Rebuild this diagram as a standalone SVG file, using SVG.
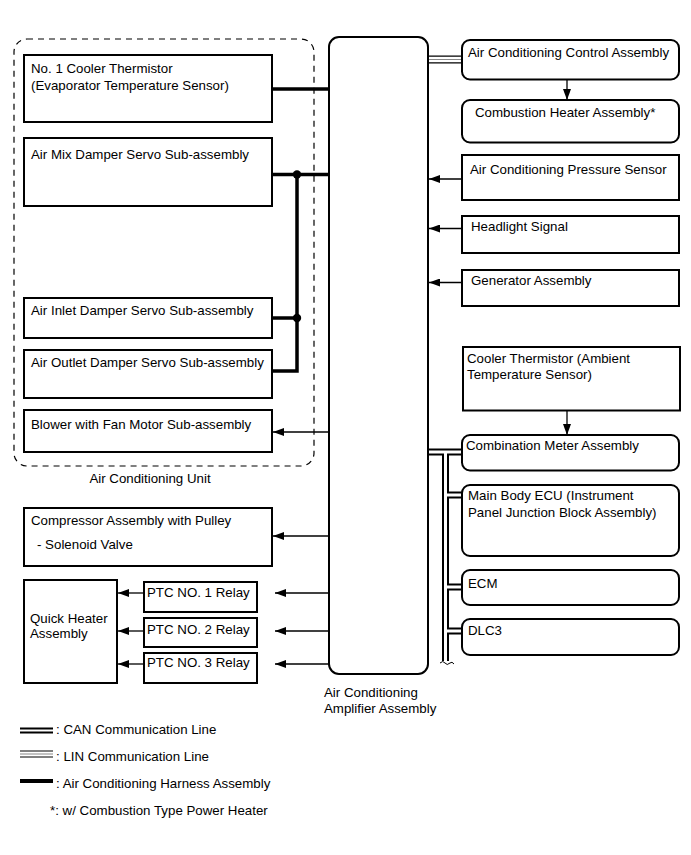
<svg xmlns="http://www.w3.org/2000/svg" width="691" height="855" viewBox="0 0 691 855">
<style>
text{font-family:"Liberation Sans",Arial,sans-serif;font-size:13.3px;fill:#000}
.box{fill:#fff;stroke:#000;stroke-width:2}
.ln{stroke:#000;stroke-width:1.3;fill:none}
.hv{stroke:#000;stroke-width:3.5;fill:none}
.canO{stroke:#000;stroke-width:7;fill:none}
.canI{stroke:#fff;stroke-width:3;fill:none}
</style>
<defs>
<marker id="ah" markerUnits="userSpaceOnUse" markerWidth="12" markerHeight="8" refX="11" refY="4" orient="auto">
<path d="M0,0 L11,4 L0,8 Z" fill="#000"/>
</marker>
</defs>

<g id="ac-unit">
<rect x="14" y="39" width="300" height="427" rx="13" fill="none" stroke="#000" stroke-width="1.2" stroke-dasharray="6,5"/>
<text x="150" y="483" text-anchor="middle">Air Conditioning Unit</text>
</g>

<g id="connectors">
<line class="hv" x1="272" y1="89" x2="329" y2="89"/>
<line class="hv" x1="272" y1="174.5" x2="329" y2="174.5"/>
<polyline class="hv" points="297,174.5 297,371 272,371"/>
<line class="hv" x1="272" y1="318" x2="297" y2="318"/>
<circle cx="297" cy="174.5" r="4.2" fill="#000"/>
<circle cx="297" cy="318" r="4.2" fill="#000"/>
<line class="ln" x1="329" y1="432" x2="273" y2="432" marker-end="url(#ah)"/>
<line class="ln" x1="329" y1="536" x2="273" y2="536" marker-end="url(#ah)"/>
<line class="ln" x1="329" y1="593" x2="275" y2="593" marker-end="url(#ah)"/>
<line class="ln" x1="329" y1="631" x2="275" y2="631" marker-end="url(#ah)"/>
<line class="ln" x1="329" y1="664" x2="275" y2="664" marker-end="url(#ah)"/>
<line class="ln" x1="144" y1="593" x2="118" y2="593" marker-end="url(#ah)"/>
<line class="ln" x1="144" y1="631" x2="118" y2="631" marker-end="url(#ah)"/>
<line class="ln" x1="144" y1="664" x2="118" y2="664" marker-end="url(#ah)"/>
<line class="ln" x1="462" y1="179" x2="429" y2="179" marker-end="url(#ah)"/>
<line class="ln" x1="462" y1="228.5" x2="429" y2="228.5" marker-end="url(#ah)"/>
<line class="ln" x1="462" y1="282.5" x2="429" y2="282.5" marker-end="url(#ah)"/>
<line class="ln" x1="567" y1="80" x2="567" y2="100" marker-end="url(#ah)"/>
<line class="ln" x1="567" y1="411" x2="567" y2="435" marker-end="url(#ah)"/>
<line x1="428" y1="59.5" x2="462" y2="59.5" stroke="#000" stroke-width="8"/>
<line x1="428" y1="59.5" x2="462" y2="59.5" stroke="#fff" stroke-width="5.6"/>
<line x1="428" y1="59.5" x2="462" y2="59.5" stroke="#888" stroke-width="1.2"/>
<path class="canO" d="M428,452 H462 M445.5,452 V661 M445.5,495 H462 M445.5,587 H462 M445.5,631 H462"/>
<path class="canI" d="M428,452 H462 M445.5,452 V662 M445.5,495 H462 M445.5,587 H462 M445.5,631 H462"/>
<path d="M440,663 q3,-3 5,0 q2,3 5,0 q2,-2 4,1" fill="none" stroke="#000" stroke-width="1"/>
</g>

<g id="amplifier">
<rect class="box" x="329" y="37" width="99" height="637" rx="10"/>
<text x="324" y="697">Air Conditioning</text>
<text x="324" y="713">Amplifier Assembly</text>
</g>

<g id="cooler-thermistor-1">
<rect class="box" x="24" y="55" width="248" height="67"/>
<text x="31" y="73">No. 1 Cooler Thermistor</text>
<text x="31" y="90">(Evaporator Temperature Sensor)</text>
</g>
<g id="air-mix">
<rect class="box" x="24" y="138" width="248" height="68"/>
<text x="31" y="159">Air Mix Damper Servo Sub-assembly</text>
</g>
<g id="air-inlet">
<rect class="box" x="24" y="298" width="248" height="40"/>
<text x="31" y="315">Air Inlet Damper Servo Sub-assembly</text>
</g>
<g id="air-outlet">
<rect class="box" x="24" y="350" width="248" height="48"/>
<text x="31" y="367">Air Outlet Damper Servo Sub-assembly</text>
</g>
<g id="blower">
<rect class="box" x="24" y="410" width="248" height="42"/>
<text x="31" y="429">Blower with Fan Motor Sub-assembly</text>
</g>
<g id="compressor">
<rect class="box" x="24" y="508" width="248" height="58"/>
<text x="31" y="525">Compressor Assembly with Pulley</text>
<text x="37" y="549">- Solenoid Valve</text>
</g>
<g id="quick-heater">
<rect class="box" x="24" y="580" width="93" height="103"/>
<text x="30" y="623">Quick Heater</text>
<text x="30" y="638">Assembly</text>
</g>
<g id="ptc1">
<rect class="box" x="144" y="582" width="113" height="30"/>
<text x="147" y="597">PTC NO. 1 Relay</text>
</g>
<g id="ptc2">
<rect class="box" x="144" y="618" width="113" height="29"/>
<text x="147" y="634">PTC NO. 2 Relay</text>
</g>
<g id="ptc3">
<rect class="box" x="144" y="653" width="113" height="30"/>
<text x="147" y="667">PTC NO. 3 Relay</text>
</g>

<g id="ac-control">
<rect class="box" x="462" y="40" width="217" height="39.5" rx="8"/>
<text x="468" y="56.5">Air Conditioning Control Assembly</text>
</g>
<g id="combustion-heater">
<rect class="box" x="462" y="100" width="217" height="42.5" rx="8"/>
<text x="475" y="117">Combustion Heater Assembly*</text>
</g>
<g id="pressure-sensor">
<rect class="box" x="462" y="155" width="217" height="45"/>
<text x="470" y="173.5">Air Conditioning Pressure Sensor</text>
</g>
<g id="headlight">
<rect class="box" x="462" y="216" width="217" height="37"/>
<text x="471" y="231">Headlight Signal</text>
</g>
<g id="generator">
<rect class="box" x="462" y="270" width="217" height="36"/>
<text x="471" y="284.5">Generator Assembly</text>
</g>
<g id="cooler-thermistor-ambient">
<rect class="box" x="463" y="347" width="217" height="63.5"/>
<text x="467" y="362.5">Cooler Thermistor (Ambient</text>
<text x="467" y="379">Temperature Sensor)</text>
</g>
<g id="combination-meter">
<rect class="box" x="462" y="435" width="217" height="35.5" rx="8"/>
<text x="466" y="450">Combination Meter Assembly</text>
</g>
<g id="main-body-ecu">
<rect class="box" x="462" y="485" width="217" height="71" rx="8"/>
<text x="468" y="500">Main Body ECU (Instrument</text>
<text x="468" y="517">Panel Junction Block Assembly)</text>
</g>
<g id="ecm">
<rect class="box" x="462" y="570" width="217" height="35" rx="8"/>
<text x="468" y="588">ECM</text>
</g>
<g id="dlc3">
<rect class="box" x="462" y="619" width="217" height="36" rx="8"/>
<text x="468" y="635">DLC3</text>
</g>

<g id="legend">
<line x1="20" y1="730.5" x2="53" y2="730.5" stroke="#000" stroke-width="6"/>
<line x1="20" y1="730.5" x2="53" y2="730.5" stroke="#fff" stroke-width="2"/>
<text x="56" y="734">: CAN Communication Line</text>
<line x1="20" y1="754" x2="53" y2="754" stroke="#000" stroke-width="7"/>
<line x1="20" y1="754" x2="53" y2="754" stroke="#fff" stroke-width="5"/>
<line x1="20" y1="754" x2="53" y2="754" stroke="#888" stroke-width="1.2"/>
<text x="56" y="761">: LIN Communication Line</text>
<line x1="20" y1="781" x2="53" y2="781" stroke="#000" stroke-width="4"/>
<text x="56" y="788">: Air Conditioning Harness Assembly</text>
<text x="50" y="815">*: w/ Combustion Type Power Heater</text>
</g>
</svg>
